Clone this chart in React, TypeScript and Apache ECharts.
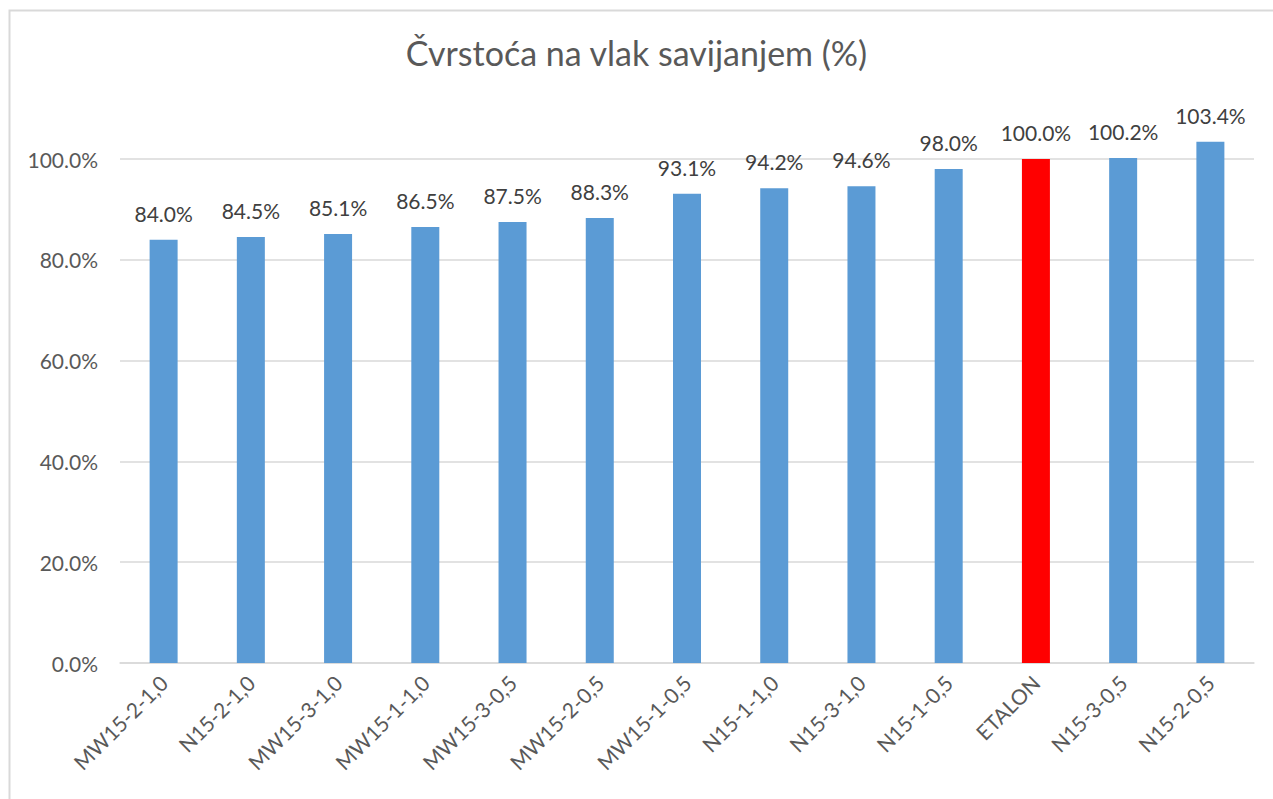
import React, { useEffect, useRef } from "react";
import * as echarts from "echarts";

const categories = [
  "MW15-2-1,0", "N15-2-1,0", "MW15-3-1,0", "MW15-1-1,0", "MW15-3-0,5", "MW15-2-0,5",
  "MW15-1-0,5", "N15-1-1,0", "N15-3-1,0", "N15-1-0,5", "ETALON", "N15-3-0,5", "N15-2-0,5",
];
const values = [84.0, 84.5, 85.1, 86.5, 87.5, 88.3, 93.1, 94.2, 94.6, 98.0, 100.0, 100.2, 103.4];
const highlight = "ETALON";
const title = "Čvrstoća na vlak savijanjem (%)";

export default function App() {
  const ref = useRef<HTMLDivElement>(null);
  useEffect(() => {
    if (!ref.current) return;
    const chart = echarts.init(ref.current, undefined, { renderer: "svg" });
    const font = "Lato, 'Open Sans', sans-serif";
    chart.setOption({
      animation: false,
      backgroundColor: "#ffffff",
      title: {
        text: title,
        left: "center",
        top: 30,
        textStyle: { fontFamily: font, fontSize: 34, fontWeight: "normal", color: "#595959" },
      },
      graphic: [
        {
          type: "rect",
          shape: { x: 9.5, y: 10.5, width: 1290, height: 820 },
          style: { fill: "none", stroke: "#d9d9d9", lineWidth: 2 },
          silent: true,
        },
      ],
      grid: { left: 120, right: 19, top: 159, bottom: 136 },
      xAxis: {
        type: "category",
        data: categories,
        axisLine: { lineStyle: { color: "#d9d9d9", width: 1.5 } },
        axisTick: { show: false },
        axisLabel: {
          rotate: 45,
          margin: 16,
          interval: 0,
          fontFamily: font,
          fontSize: 21,
          color: "#595959",
        },
      },
      yAxis: {
        type: "value",
        min: 0,
        max: 100,
        interval: 20,
        axisLine: { show: false },
        axisTick: { show: false },
        splitLine: { lineStyle: { color: "#d9d9d9", width: 1.5 } },
        axisLabel: {
          margin: 22,
          fontFamily: font,
          fontSize: 21,
          color: "#595959",
          formatter: (v: number) => v.toFixed(1) + "%",
        },
      },
      series: [
        {
          type: "bar",
          clip: false,
          barWidth: 28,
          data: values.map((v, i) => ({
            value: v,
            itemStyle: { color: categories[i] === highlight ? "#ff0000" : "#5b9bd5" },
          })),
          label: {
            show: true,
            position: "top",
            distance: 16,
            fontFamily: font,
            fontSize: 21,
            color: "#404040",
            formatter: (p: any) => Number(p.value).toFixed(1) + "%",
          },
        },
      ],
    });
    return () => chart.dispose();
  }, []);
  return (
    <div
      ref={ref}
      style={{ position: "absolute", left: 0, top: 0, width: 1273, height: 799 }}
    />
  );
}
